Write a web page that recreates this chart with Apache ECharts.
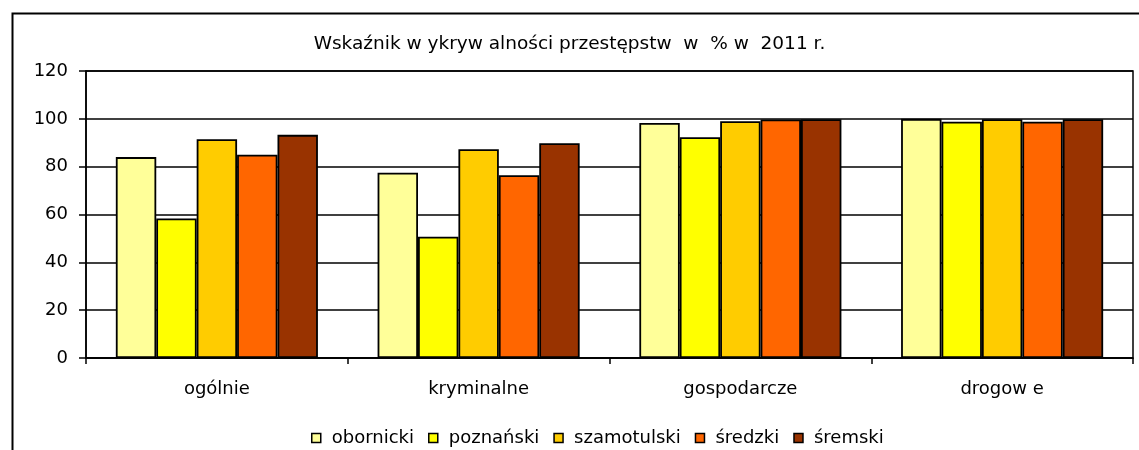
<!DOCTYPE html>
<html><head><meta charset="utf-8">
<script src="https://cdn.jsdelivr.net/npm/echarts@6/dist/echarts.min.js"></script>
<style>html,body{margin:0;padding:0;background:#fff}#c{width:1139px;height:450px}</style>
</head><body><div id="c"></div>
<script>
const titleText = 'Wskaźnik w ykryw alności przestępstw  w  % w  2011 r.';
const categories = ['ogólnie', 'kryminalne', 'gospodarcze', 'drogow e'];
const seriesNames = ['obornicki', 'poznański', 'szamotulski', 'średzki', 'śremski'];
const obornicki = [84.0, 77.5, 98.3, 100];
const poznanski = [58.3, 50.7, 92.3, 98.8];
const szamotulski = [91.5, 87.3, 99.0, 99.8];
const sredzki = [85.0, 76.4, 99.7, 98.8];
const sremski = [93.3, 89.8, 99.8, 99.8];
const colors = ['#FFFF99', '#FFFF00', '#FFCC00', '#FF6600', '#993300'];
const yTicks = [0, 20, 40, 60, 80, 100, 120];

const values = [obornicki, poznanski, szamotulski, sredzki, sremski];
const font = '"DejaVu Sans", sans-serif';
const chart = echarts.init(document.getElementById('c'), null, {renderer: 'canvas'});
chart.setOption({
  animation: false,
  backgroundColor: '#fff',
  graphic: [{
    type: 'rect', left: 10, top: 11, z: -10,
    shape: {width: 1200, height: 500},
    style: {fill: 'none', stroke: '#000', lineWidth: 2}
  }],
  title: {
    text: titleText, left: 'center', top: 30,
    textStyle: {fontFamily: font, fontSize: 18.5, fontWeight: 'normal', color: '#000'}
  },
  legend: {
    data: seriesNames, top: 424, left: 306,
    itemWidth: 9, itemHeight: 9, itemGap: 14,
    icon: 'rect',
    itemStyle: {borderColor: '#000', borderWidth: 1.5},
    textStyle: {fontFamily: font, fontSize: 18, color: '#000', padding: [0, 0, 0, 6]}
  },
  grid: {left: 86, right: 6, top: 71, bottom: 92, show: true, borderColor: '#000', borderWidth: 1.5, containLabel: false},
  xAxis: {
    type: 'category', data: categories,
    axisLine: {lineStyle: {color: '#000', width: 1.5}},
    axisTick: {show: true, length: 6, lineStyle: {color: '#000', width: 1.5}},
    axisLabel: {fontFamily: font, fontSize: 18, color: '#000', margin: 22}
  },
  yAxis: {
    type: 'value', min: 0, max: 120, interval: 20,
    axisLine: {show: true, lineStyle: {color: '#000', width: 1.5}},
    axisTick: {show: true, length: 7, lineStyle: {color: '#000', width: 1.5}},
    splitLine: {show: true, lineStyle: {color: '#000', width: 1.5}},
    axisLabel: {fontFamily: font, fontSize: 18, color: '#000', margin: 18,
      formatter: v => yTicks.includes(v) ? String(v) : ''}
  },
  series: seriesNames.map((n, i) => ({
    name: n, type: 'bar', data: values[i],
    barGap: '0%', barCategoryGap: '22.8%',
    itemStyle: {color: colors[i], borderColor: '#000', borderWidth: 1.8}
  }))
});
</script></body></html>
